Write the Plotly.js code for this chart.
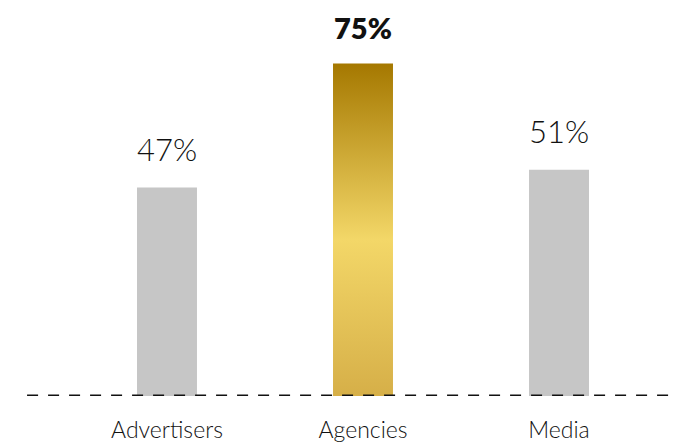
<!DOCTYPE html>
<html>
<head>
<meta charset="utf-8">
<script src="https://cdn.plot.ly/plotly-3.0.1.min.js"></script>
<style>html,body{margin:0;padding:0;background:#fff;}#chart{width:677px;height:444px;}</style>
</head>
<body>
<div id="chart"></div>
<script>
const categories = ["Advertisers", "Agencies", "Media"];
const values = [47, 75, 51];
const valueLabels = ["47%", "75%", "51%"];
const highlight = [false, true, false];

const FONT = "Lato, 'Open Sans', sans-serif";

const trace = {
  type: "bar",
  x: categories,
  y: values,
  marker: {color: highlight.map(h => h ? "#D4AA3C" : "#C6C6C6"), line: {width: 0}},
  hoverinfo: "none"
};

const annotations = categories.map((c, i) => ({
  x: c, y: values[i], xref: "x", yref: "y",
  text: valueLabels[i], showarrow: false,
  yanchor: "bottom", yshift: highlight[i] ? 16 : 18,
  font: {family: FONT, size: highlight[i] ? 29 : 31, color: "#111", weight: highlight[i] ? 800 : 300}
}));

const layout = {
  width: 677, height: 444,
  margin: {l: 0, r: 0, t: 0, b: 48, pad: 0},
  paper_bgcolor: "#fff", plot_bgcolor: "#fff",
  bargap: 0.694,
  showlegend: false,
  xaxis: {
    type: "category", range: [-0.852, 2.602],
    showgrid: false, zeroline: false, showline: false, ticks: "",
    tickfont: {family: FONT, size: 23, color: "#111", weight: 300},
    ticklabelstandoff: 18, fixedrange: true
  },
  yaxis: {range: [0, 89.3], visible: false, fixedrange: true},
  annotations: annotations,
  shapes: [{
    type: "line", xref: "paper", yref: "y", x0: 0.04, x1: 1, y0: 0, y1: 0,
    line: {color: "#111", width: 3, dash: "11px,10px"}
  }]
};

Plotly.newPlot("chart", [trace], layout, {displayModeBar: false, staticPlot: true}).then(gd => {
  const ns = "http://www.w3.org/2000/svg";
  const defs = gd.querySelector(".main-svg defs");
  const grad = document.createElementNS(ns, "linearGradient");
  grad.setAttribute("id", "goldGrad");
  grad.setAttribute("x1", "0"); grad.setAttribute("y1", "0");
  grad.setAttribute("x2", "0"); grad.setAttribute("y2", "1");
  [["0", "#A57800"], ["0.53", "#F3D768"], ["1", "#D6AF48"]].forEach(([o, c]) => {
    const s = document.createElementNS(ns, "stop");
    s.setAttribute("offset", o); s.setAttribute("stop-color", c);
    grad.appendChild(s);
  });
  defs.appendChild(grad);
  const paths = gd.querySelectorAll(".barlayer .point path");
  paths.forEach((p, i) => { if (highlight[i]) p.style.fill = "url(#goldGrad)"; });
});
</script>
</body>
</html>
